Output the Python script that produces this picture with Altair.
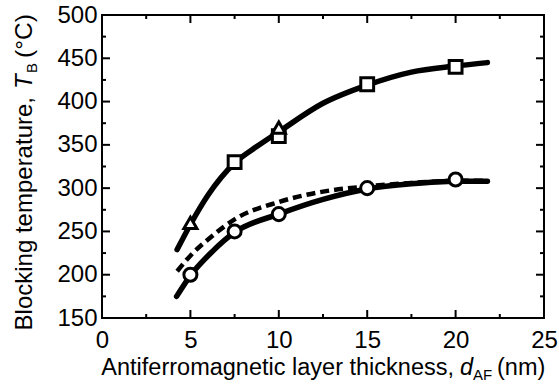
import altair as alt
import pandas as pd

# ---- data ----
sq_x = [7.5, 10, 15, 20]
sq_y = [330, 360, 420, 440]
tri_x = [5, 10]
tri_y = [260, 370]
circ_x = [5, 7.5, 10, 15, 20]
circ_y = [200, 250, 270, 300, 310]

up_x = [4.25, 5, 6, 7.5, 8.75, 10, 12.5, 15, 17.5, 20, 21.8]
up_y = [229, 258, 292, 329, 348, 365, 398, 419, 434, 441, 445]
lo_x = [4.22, 5, 6.25, 7.5, 10, 12.5, 15, 17.5, 20, 21.8]
lo_y = [175, 199, 227, 249, 270, 287, 299, 305, 308, 308]
da_x = [4.25, 5, 6.25, 7.5, 10, 12.5, 15, 17.5, 20, 21.8]
da_y = [204, 222, 245, 264, 284, 296, 302, 306, 308.5, 308.5]

x_major = [0, 5, 10, 15, 20, 25]
x_minor = [2.5, 7.5, 12.5, 17.5, 22.5]
y_major = [150, 200, 250, 300, 350, 400, 450, 500]
y_minor = [175, 225, 275, 325, 375, 425, 475]

W, H = 442, 303
FONT = "Liberation Sans"

xs = alt.Scale(domain=[0, 25], nice=False, zero=False)
ys = alt.Scale(domain=[150, 500], nice=False, zero=False)

x_axis = alt.Axis(values=x_major, ticks=False, domain=False, grid=False, title=None,
                  labelFont=FONT, labelFontSize=24, labelColor="black", labelPadding=10,
                  labelFlush=False)
y_axis = alt.Axis(values=y_major, ticks=False, domain=False, grid=False, title=None,
                  labelFont=FONT, labelFontSize=24, labelColor="black", labelPadding=5)

def line(xv, yv, dash=None):
    df = pd.DataFrame({"x": xv, "y": yv})
    kw = dict(color="black", strokeWidth=5.5, interpolate="monotone", strokeCap="round")
    if dash:
        kw["strokeDash"] = dash
        kw["strokeCap"] = "butt"
        kw["strokeWidth"] = 4.5
    return alt.Chart(df).mark_line(**kw).encode(
        x=alt.X("x:Q", scale=xs, axis=x_axis),
        y=alt.Y("y:Q", scale=ys, axis=y_axis),
    )

def pts(xv, yv, shape, size):
    df = pd.DataFrame({"x": xv, "y": yv})
    return alt.Chart(df).mark_point(shape=shape, size=size, filled=True, fill="white",
                                    stroke="black", strokeWidth=3, opacity=1).encode(
        x=alt.X("x:Q", scale=xs), y=alt.Y("y:Q", scale=ys))

def xticks(vals, length):
    df = pd.DataFrame({"v": vals})
    b = alt.Chart(df).mark_rule(color="black", strokeWidth=2).encode(
        x=alt.X("v:Q", scale=xs), y=alt.value(H), y2=alt.value(H - length))
    t = alt.Chart(df).mark_rule(color="black", strokeWidth=2).encode(
        x=alt.X("v:Q", scale=xs), y=alt.value(0), y2=alt.value(length))
    return [b, t]

def yticks(vals, length):
    df = pd.DataFrame({"v": vals})
    l = alt.Chart(df).mark_rule(color="black", strokeWidth=2).encode(
        y=alt.Y("v:Q", scale=ys), x=alt.value(0), x2=alt.value(length))
    r = alt.Chart(df).mark_rule(color="black", strokeWidth=2).encode(
        y=alt.Y("v:Q", scale=ys), x=alt.value(W), x2=alt.value(W - length))
    return [l, r]

one = pd.DataFrame({"a": [0]})

def txt(s, x, y, size=23.5, style="normal", align="left", angle=0):
    return alt.Chart(one).mark_text(text=s, font=FONT, fontSize=size, fontStyle=style,
                                    align=align, baseline="alphabetic", angle=angle,
                                    color="black").encode(x=alt.value(x), y=alt.value(y))

# x title pieces
xt = [
    txt("Antiferromagnetic layer thickness,", 352, 360, align="right"),
    txt("d", 358, 360, style="italic"),
    txt("AF", 371, 365, size=15),
    txt("(nm)", 395, 360),
]
# y title pieces (rotated)
YX = -70
yt = [
    txt("Blocking temperature,", YX, 82, size=24, align="right", angle=270),
    txt("T", YX, 74, size=24, style="italic", angle=270),
    txt("B", YX + 5, 58, size=15, angle=270),
    txt("(°C)", YX, 43, size=24.5, angle=270),
]

layers = [
    line(da_x, da_y, dash=[9, 5]),
    line(lo_x, lo_y),
    line(up_x, up_y),
    pts(circ_x, circ_y, "circle", 170),
    pts(sq_x, sq_y, "square", 165),
    pts(tri_x, tri_y, "triangle-up", 170),
]
layers += xticks(x_major, 8) + xticks(x_minor, 4) + yticks(y_major, 8) + yticks(y_minor, 4)
layers += xt + yt

chart = alt.layer(*layers).properties(
    width=W, height=H,
    padding={"left": 102, "top": 15, "right": 15, "bottom": 73},
    autosize="none",
    background="white",
).configure_view(stroke="black", strokeWidth=2)

chart.save("out.html", embed_options={"renderer": "svg", "actions": False})
